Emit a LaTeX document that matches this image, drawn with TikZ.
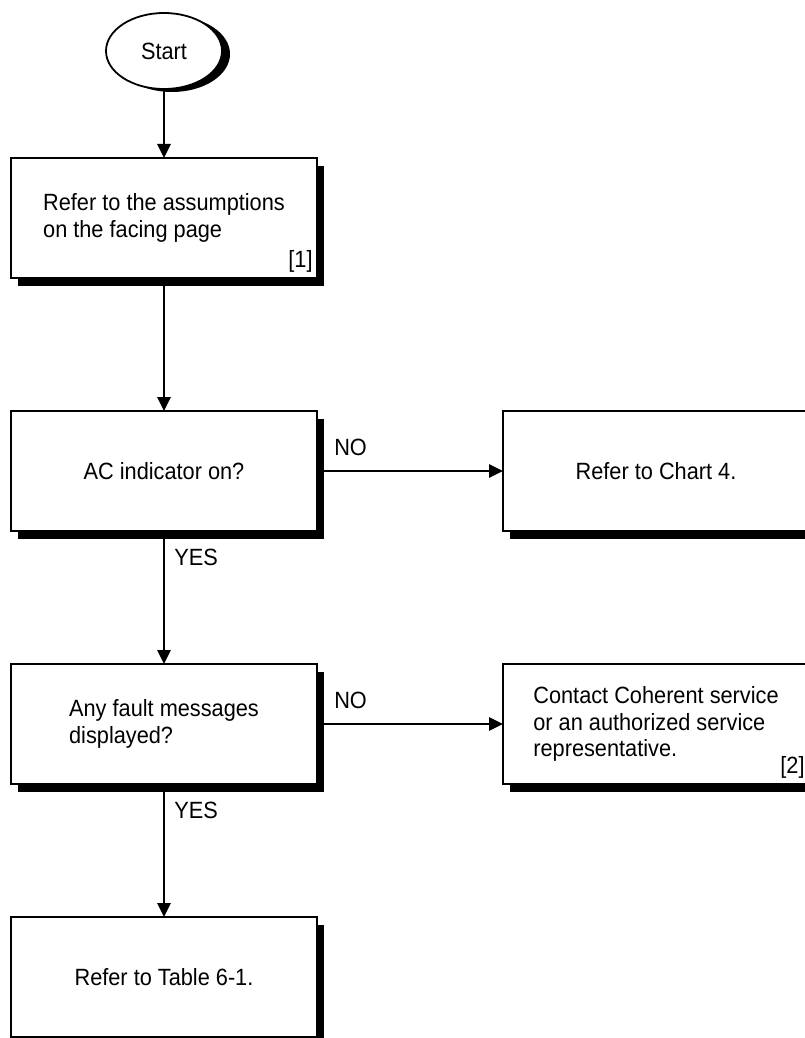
\documentclass[tikz,border=0pt]{standalone}
\usepackage{fontspec}
\setmainfont[FakeStretch=0.925]{Liberation Sans}
\usetikzlibrary{arrows.meta,positioning,shapes,shadows}
\tikzstyle{box}=[rectangle,draw=black,line width=0.9pt,fill=white,
minimum width=153pt,minimum height=60pt,align=left,outer sep=0pt,
drop shadow={shadow xshift=3.5pt,shadow yshift=-3.75pt,opacity=1,fill=black}]
\tikzstyle{start}=[ellipse,draw=black,line width=0.9pt,fill=white,
minimum width=58pt,minimum height=38pt,inner sep=0pt,outer sep=0pt,
drop shadow={shadow xshift=4pt,shadow yshift=-1.5pt,opacity=1,fill=black}]

\begin{document}
\begin{tikzpicture}[node distance=66.5pt, >={Triangle[length=7pt,width=6.5pt]},
		font=\fontsize{11.75pt}{13.25pt}\selectfont]
  \tikzstyle{flow}=[->,line width=1.3pt]
  \tikzstyle{answer}=[inner sep=0pt]
  \tikzstyle{note}=[inner sep=0pt,anchor=south east]

  \useasboundingbox (-82pt,25.5pt) rectangle (320pt,-493.5pt);

  		\node[start] (start) {Start};
  		\node[box, below=34.5pt of start] (assume) {Refer to the assumptions\\on the facing page};
  		\node[note] (note1) at ([xshift=-2pt,yshift=2.5pt]assume.south east) {[1]};
  		\node[box, below=of assume] (ac) {AC indicator on?};
  		\node[box, right=93pt of ac] (chart) {Refer to Chart 4.};
  		\node[box, below=of ac] (fault) {Any fault messages\\displayed?};
  		\node[box, right=93pt of fault] (service) {Contact Coherent service\\or an authorized service\\representative.};
  		\node[note] (note2) at ([xshift=-2pt,yshift=2.5pt]service.south east) {[2]};
  		\node[box, below=of fault] (table) {Refer to Table 6-1.};

  		\draw[flow] (start) -- (assume);
  		\draw[flow] (assume) -- (ac);
  		\draw[flow] (ac) -- node[answer,pos=0,anchor=south west,xshift=8pt,yshift=7pt] {NO} (chart);
  		\draw[flow] (ac) -- node[answer,pos=0,anchor=north west,xshift=4.5pt,yshift=-8.5pt] {YES} (fault);
  		\draw[flow] (fault) -- node[answer,pos=0,anchor=south west,xshift=8pt,yshift=7pt] {NO} (service);
  		\draw[flow] (fault) -- node[answer,pos=0,anchor=north west,xshift=4.5pt,yshift=-8.5pt] {YES} (table);
	\end{tikzpicture}
\end{document}
